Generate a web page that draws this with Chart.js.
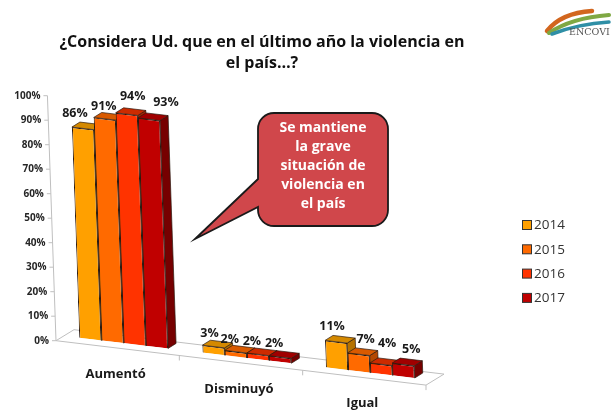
<!DOCTYPE html>
<html>
<head>
<meta charset="utf-8">
<script src="https://cdn.jsdelivr.net/npm/chart.js@4.4.1/dist/chart.umd.min.js"></script>
<style>
  html, body { margin: 0; padding: 0; background: #fff; }
  #wrap { width: 611px; height: 411px; }
</style>
</head>
<body>
<div id="wrap"><canvas id="chart" width="611" height="411"></canvas></div>
<script>
// answers and yearly shares (%)
const categories = ['Aumentó', 'Disminuyó', 'Igual'];
const years = ['2014', '2015', '2016', '2017'];
const serie2014 = [86, 3, 11];
const serie2015 = [91, 2, 7];
const serie2016 = [94, 2, 4];
const serie2017 = [93, 2, 5];
const yTicks = [0, 10, 20, 30, 40, 50, 60, 70, 80, 90, 100];

const titleLines = ['¿Considera Ud. que en el último año la violencia en', 'el país…?'];
const calloutLines = ['Se mantiene', 'la grave', 'situación de', 'violencia en', 'el país'];

// front / top / side shades for each year
const frontColors = ['#FFA000', '#FF6A00', '#FF3300', '#C00000'];
const topColors = ['#D48900', '#D95A00', '#CC2B00', '#A00000'];
const sideColors = ['#B57200', '#B44800', '#A62300', '#760000'];

// hand placement of the value labels (px), per year then per answer
const labelNudge = [
  [[-12, 0], [-8, 1], [-8, -1]],
  [[-5, 2], [-10, 2], [3, 0]],
  [[2, -3], [-10, 2], [2, -6]],
  [[13, -2], [-10, 1], [4, -1]]
];

const FONT = '"Open Sans", "Liberation Sans", sans-serif';
const SHEAR_Y = 0.12;     // slope of the floor
const SHEAR_X = 0.035;    // lean of the vertical edges
const DEPTH = [8, -5];    // column depth offset
const FLOOR_FRONT = [-6, 5];
const FLOOR_BACK = [12, -6];

function project(chart, u, v) {
  const u0 = chart.chartArea.left;
  const v0 = chart.scales.y.getPixelForValue(0);
  return [u + SHEAR_X * (v - v0), v + SHEAR_Y * (u - u0)];
}
const off = (p, d) => [p[0] + d[0], p[1] + d[1]];

function poly(ctx, pts, fill) {
  ctx.beginPath();
  ctx.moveTo(pts[0][0], pts[0][1]);
  for (let i = 1; i < pts.length; i++) ctx.lineTo(pts[i][0], pts[i][1]);
  ctx.closePath();
  ctx.fillStyle = fill;
  ctx.fill();
  ctx.stroke();
}

const depthPlugin = {
  id: 'depth3d',
  beforeDatasetsDraw(chart) {
    const ctx = chart.ctx;
    const xs = chart.scales.x, ys = chart.scales.y;
    const { left, right } = chart.chartArea;
    const v0 = ys.getPixelForValue(0);
    const P = (u, v) => project(chart, u, v);

    // floor
    ctx.save();
    ctx.strokeStyle = '#BFBFBF';
    ctx.lineWidth = 1;
    const bl = P(left, v0), br = P(right, v0);
    const fl = off(bl, FLOOR_FRONT), fr = off(br, FLOOR_FRONT);
    const kl = off(bl, FLOOR_BACK), kr = off(br, FLOOR_BACK);
    ctx.beginPath();
    ctx.moveTo(fl[0], fl[1]); ctx.lineTo(fr[0], fr[1]);
    ctx.lineTo(kr[0], kr[1]); ctx.lineTo(kl[0], kl[1]);
    ctx.closePath();
    ctx.stroke();

    // category separators along the front edge
    ctx.beginPath();
    for (let i = 0; i < categories.length; i++) {
      const u = i < categories.length - 1
        ? (xs.getPixelForTick(i) + xs.getPixelForTick(i + 1)) / 2
        : right;
      const p = off(P(u, v0), FLOOR_FRONT);
      ctx.moveTo(p[0], p[1]); ctx.lineTo(p[0], p[1] + 5);
    }
    ctx.stroke();

    // value axis on the front-left edge
    const a0 = off(P(left, ys.getPixelForValue(yTicks[0])), FLOOR_FRONT);
    const a1 = off(P(left, ys.getPixelForValue(yTicks[yTicks.length - 1])), FLOOR_FRONT);
    ctx.beginPath();
    ctx.moveTo(a0[0], a0[1]); ctx.lineTo(a1[0], a1[1]);
    yTicks.forEach(t => {
      const p = off(P(left, ys.getPixelForValue(t)), FLOOR_FRONT);
      ctx.moveTo(p[0] - 4, p[1]); ctx.lineTo(p[0], p[1]);
    });
    ctx.stroke();
    ctx.fillStyle = '#262626';
    ctx.font = 'bold 10px ' + FONT;
    ctx.textAlign = 'right';
    ctx.textBaseline = 'middle';
    yTicks.forEach(t => {
      const p = off(P(left, ys.getPixelForValue(t)), FLOOR_FRONT);
      ctx.fillText(t + '%', p[0] - 7, p[1]);
    });

    // top and side faces, left to right; the fronts are painted over them
    ctx.strokeStyle = '#2b1a10';
    ctx.lineWidth = 0.7;
    const metas = chart.getSortedVisibleDatasetMetas();
    for (let j = 0; j < categories.length; j++) {
      metas.forEach(meta => {
        const el = meta.data[j];
        const { x, y, base, width } = el.getProps(['x', 'y', 'base', 'width'], true);
        const tl = P(x - width / 2, y), tr = P(x + width / 2, y), bR = P(x + width / 2, base);
        poly(ctx, [tr, bR, off(bR, DEPTH), off(tr, DEPTH)], sideColors[meta.index]);
        poly(ctx, [tl, tr, off(tr, DEPTH), off(tl, DEPTH)], topColors[meta.index]);
      });
    }
    ctx.restore();

    // shear the front faces drawn by Chart.js
    ctx.save();
    ctx.transform(1, SHEAR_Y, SHEAR_X, 1, -SHEAR_X * v0, -SHEAR_Y * left);
  },
  afterDatasetsDraw(chart) {
    const ctx = chart.ctx;
    ctx.restore();
    const P = (u, v) => project(chart, u, v);
    const xs = chart.scales.x, ys = chart.scales.y;
    const v0 = ys.getPixelForValue(0);

    ctx.save();
    ctx.fillStyle = '#1a1a1a';
    ctx.textAlign = 'center';
    ctx.textBaseline = 'middle';
    ctx.font = 'bold 12.5px ' + FONT;
    chart.getSortedVisibleDatasetMetas().forEach(meta => {
      const values = chart.data.datasets[meta.index].data;
      meta.data.forEach((el, j) => {
        const { x, y, width } = el.getProps(['x', 'y', 'width'], true);
        const tl = P(x - width / 2, y), tr = P(x + width / 2, y);
        const n = labelNudge[meta.index][j];
        const cx = (tl[0] + tr[0]) / 2 + DEPTH[0] / 2 + n[0];
        const cy = (tl[1] + tr[1]) / 2 + DEPTH[1] / 2 + n[1];
        ctx.fillText(values[j] + '%', cx, cy - 12);
      });
    });

    // category names under the floor
    ctx.font = 'bold 13px ' + FONT;
    categories.forEach((c, i) => {
      const p = P(xs.getPixelForTick(i), v0);
      ctx.fillText(c, p[0] - 8, p[1] + 31);
    });
    ctx.restore();
  },
  afterDraw(chart) {
    const ctx = chart.ctx;
    ctx.save();

    // title
    ctx.fillStyle = '#111';
    ctx.font = 'bold 16px ' + FONT;
    ctx.textAlign = 'center';
    ctx.textBaseline = 'middle';
    titleLines.forEach((t, i) => ctx.fillText(t, 262, 42 + i * 21));

    // legend
    ctx.font = '13.5px ' + FONT;
    ctx.textAlign = 'left';
    ctx.strokeStyle = '#333';
    ctx.lineWidth = 1;
    chart.data.datasets.forEach((ds, i) => {
      const y = 225 + i * 24.3;
      ctx.fillStyle = ds.backgroundColor;
      ctx.fillRect(522.5, y - 4.5, 9, 9);
      ctx.strokeRect(522.5, y - 4.5, 9, 9);
      ctx.fillStyle = '#333';
      ctx.fillText(ds.label, 534, y + 0.5);
    });

    // callout bubble
    const bx = 258, by = 113, bw = 130, bh = 113, r = 16;
    ctx.beginPath();
    ctx.moveTo(bx + r, by);
    ctx.lineTo(bx + bw - r, by);
    ctx.arcTo(bx + bw, by, bx + bw, by + r, r);
    ctx.lineTo(bx + bw, by + bh - r);
    ctx.arcTo(bx + bw, by + bh, bx + bw - r, by + bh, r);
    ctx.lineTo(bx + r, by + bh);
    ctx.arcTo(bx, by + bh, bx, by + bh - r, r);
    ctx.lineTo(bx, 207);
    ctx.lineTo(195, 239);
    ctx.lineTo(bx, 179);
    ctx.lineTo(bx, by + r);
    ctx.arcTo(bx, by, bx + r, by, r);
    ctx.closePath();
    ctx.fillStyle = '#D0474B';
    ctx.fill();
    ctx.strokeStyle = '#1a1a1a';
    ctx.lineWidth = 1.8;
    ctx.stroke();
    ctx.fillStyle = '#fff';
    ctx.font = 'bold 14px ' + FONT;
    ctx.textAlign = 'center';
    calloutLines.forEach((t, i) => ctx.fillText(t, bx + bw / 2, 128 + i * 19));

    // ENCOVI mark
    ctx.lineCap = 'round';
    const swoosh = (color, w, pts) => {
      ctx.beginPath();
      ctx.moveTo(pts[0], pts[1]);
      ctx.quadraticCurveTo(pts[2], pts[3], pts[4], pts[5]);
      ctx.strokeStyle = color;
      ctx.lineWidth = w;
      ctx.stroke();
    };
    swoosh('#D2661E', 4.5, [547, 31, 561, 13, 592, 11]);
    swoosh('#7FA843', 4, [549, 33, 571, 18, 609, 15]);
    swoosh('#2F8FA6', 3.5, [552, 34, 578, 24, 609, 22]);
    ctx.fillStyle = '#555';
    ctx.font = '9.5px "DejaVu Serif", serif';
    ctx.textAlign = 'left';
    ctx.fillText('ENCOVI', 569, 33);
    ctx.restore();
  }
};

new Chart(document.getElementById('chart'), {
  type: 'bar',
  data: {
    labels: categories,
    datasets: [
      { label: years[0], data: serie2014, backgroundColor: frontColors[0] },
      { label: years[1], data: serie2015, backgroundColor: frontColors[1] },
      { label: years[2], data: serie2016, backgroundColor: frontColors[2] },
      { label: years[3], data: serie2017, backgroundColor: frontColors[3] }
    ]
  },
  options: {
    responsive: false,
    animation: false,
    devicePixelRatio: 1,
    layout: { padding: { left: 62, right: 179, top: 90.7, bottom: 75.3 } },
    datasets: {
      bar: { categoryPercentage: 0.72, barPercentage: 1, borderWidth: 1, borderColor: '#2b1a10', clip: false }
    },
    plugins: {
      legend: { display: false },
      title: { display: false },
      tooltip: { enabled: false }
    },
    scales: {
      x: { display: false },
      y: { display: false, min: 0, max: 100 }
    }
  },
  plugins: [depthPlugin]
});
</script>
</body>
</html>
